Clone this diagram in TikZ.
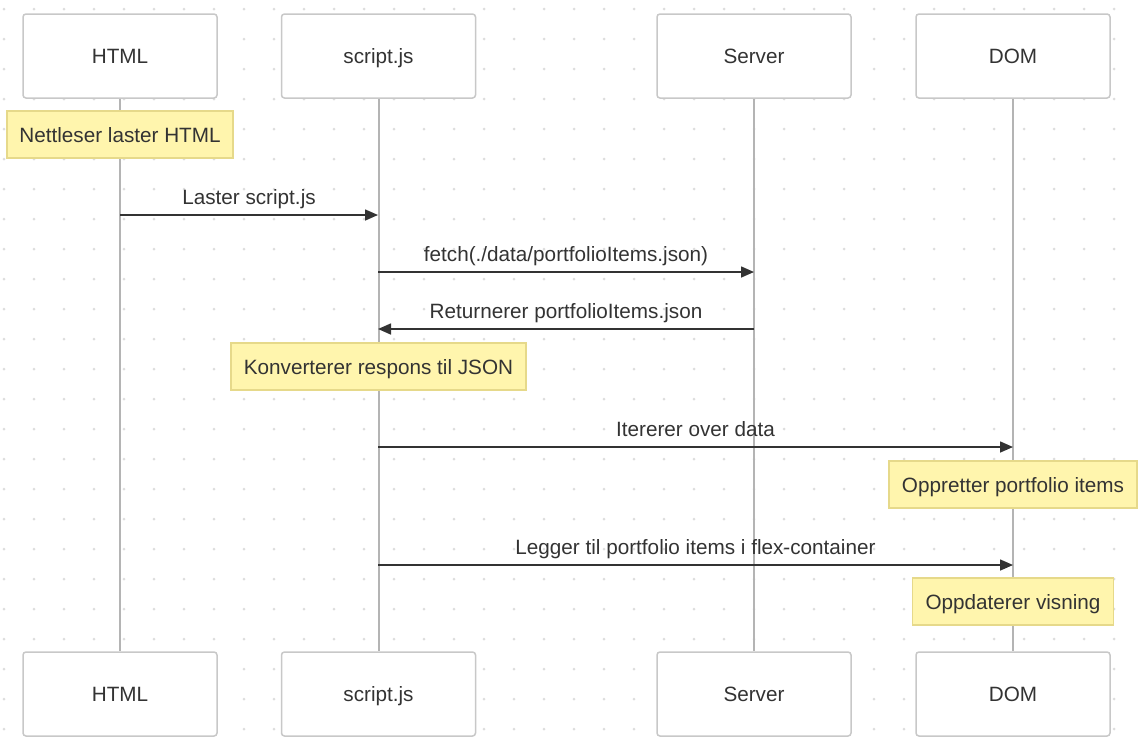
\documentclass[tikz,border=0pt]{standalone}
\usepackage{fontspec}
\setmainfont{Liberation Sans}
\usetikzlibrary{arrows.meta}
\definecolor{txt}{HTML}{333333}
\definecolor{boxline}{HTML}{C8C8C8}
\definecolor{lifeline}{HTML}{B4B4B4}
\definecolor{notefill}{HTML}{FFF5AD}
\definecolor{noteline}{HTML}{E6D98A}
\definecolor{dotc}{HTML}{DDDDDD}
\begin{document}
\begin{tikzpicture}[x=1pt,y=-1pt,
  fnt/.style={font=\fontsize{20.7}{24}\selectfont,text=txt},
  actor/.style={fnt,draw=boxline,line width=1.5pt,fill=white,rounded corners=3pt,minimum width=194pt,minimum height=84pt,inner sep=0pt,text height=15.5pt,text depth=0pt},
  note/.style={fnt,draw=noteline,line width=1.2pt,fill=notefill,minimum height=47pt,inner sep=0pt,text height=15.5pt,text depth=0pt},
  life/.style={draw=lifeline,line width=2pt},
  msg/.style={draw=txt,line width=1.6pt,-{Triangle[length=13pt,width=11pt]}},
  lbl/.style={fnt,inner sep=0pt,anchor=base,yshift=11pt}]
\useasboundingbox (0,0) rectangle (1142,748);
\fill[white] (0,0) rectangle (1142,748);
\foreach \i in {0,...,38} {\foreach \j in {0,...,24} {\fill[dotc] (4+30*\i,9+30*\j) circle (1.5pt);}}
% actors
\node[actor] (h1) at (120,56) {HTML};
\node[actor] (s1) at (378.5,56) {script.js};
\node[actor] (v1) at (754,56) {Server};
\node[actor] (d1) at (1013,56) {DOM};
\node[actor] (h2) at (120,694) {HTML};
\node[actor] (s2) at (378.5,694) {script.js};
\node[actor] (v2) at (754,694) {Server};
\node[actor] (d2) at (1013,694) {DOM};
% lifelines
\draw[life] (h1.south) -- (h2.north);
\draw[life] (s1.south) -- (s2.north);
\draw[life] (v1.south) -- (v2.north);
\draw[life] (d1.south) -- (d2.north);
% notes
\node[note,minimum width=226pt] (n1) at (120,134.5) {Nettleser laster HTML};
\node[note,minimum width=295pt] (n2) at (378.5,366.5) {Konverterer respons til JSON};
\node[note,minimum width=248pt] (n3) at (1013,484.5) {Oppretter portfolio items};
\node[note,minimum width=201pt] (n4) at (1013,601.5) {Oppdaterer visning};
% message anchors
\coordinate (a1) at (120,215); \coordinate (b1) at (378,215);
\coordinate (a2) at (378,272); \coordinate (b2) at (754,272);
\coordinate (a3) at (754,329); \coordinate (b3) at (378,329);
\coordinate (a4) at (378,447); \coordinate (b4) at (1013,447);
\coordinate (a5) at (378,565); \coordinate (b5) at (1013,565);
\draw[msg] (a1) -- (b1) node[lbl,midway] (m1) {Laster script.js};
\draw[msg] (a2) -- (b2) node[lbl,midway] (m2) {fetch(./data/portfolioItems.json)};
\draw[msg] (a3) -- (b3) node[lbl,midway] (m3) {Returnerer portfolioItems.json};
\draw[msg] (a4) -- (b4) node[lbl,midway] (m4) {Itererer over data};
\draw[msg] (a5) -- (b5) node[lbl,midway] (m5) {Legger til portfolio items i flex-container};
\end{tikzpicture}
\end{document}
